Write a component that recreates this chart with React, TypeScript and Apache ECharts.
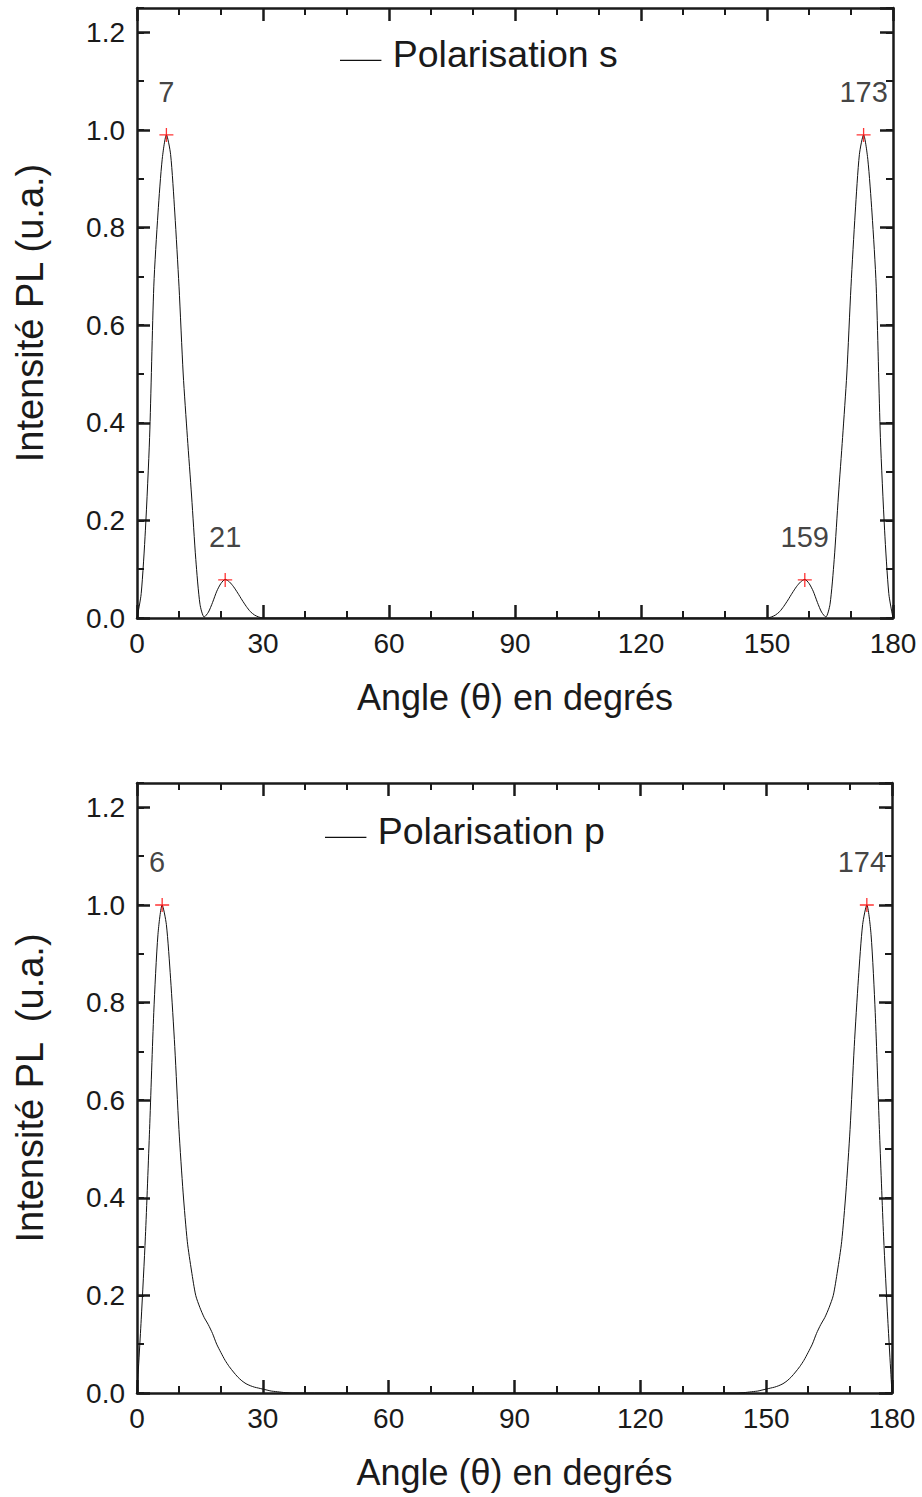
import React, { useEffect, useRef } from "react";
import * as echarts from "echarts";

// ---- Data ----
const anglesS = [
  0, 1, 2, 3, 4, 5, 6, 7, 8, 9, 10, 11, 12, 13, 14, 15, 16, 17, 18, 19, 20, 21, 22, 23, 24, 25, 26, 27, 28, 29, 30,
  150, 151, 152, 153, 154, 155, 156, 157, 158, 159, 160, 161, 162, 163, 164, 165, 166, 167, 168, 169, 170, 171, 172, 173, 174, 175, 176, 177, 178, 179, 180,
];
const valuesS = [
  0, 0.05, 0.18, 0.37, 0.68, 0.83, 0.94, 0.99, 0.95, 0.83, 0.68, 0.5, 0.37, 0.25, 0.12, 0.028, 0.002, 0.012, 0.032, 0.055, 0.071, 0.079, 0.074, 0.064, 0.051, 0.037, 0.024, 0.013, 0.006, 0.002, 0,
  0, 0.002, 0.006, 0.013, 0.024, 0.037, 0.051, 0.064, 0.074, 0.079, 0.071, 0.055, 0.032, 0.012, 0.002, 0.028, 0.12, 0.25, 0.37, 0.5, 0.68, 0.83, 0.95, 0.99, 0.94, 0.83, 0.68, 0.37, 0.18, 0.05, 0,
];

const anglesP = [
  0, 1, 2, 3, 4, 5, 6, 7, 8, 9, 10, 11, 12, 13, 14, 15, 16, 17, 18, 19, 20, 21, 22, 23, 24, 25, 26, 27, 28, 29, 30, 31, 32, 33, 34, 35, 36, 37,
  143, 144, 145, 146, 147, 148, 149, 150, 151, 152, 153, 154, 155, 156, 157, 158, 159, 160, 161, 162, 163, 164, 165, 166, 167, 168, 169, 170, 171, 172, 173, 174, 175, 176, 177, 178, 179, 180,
];
const valuesP = [
  0, 0.15, 0.32, 0.54, 0.78, 0.94, 1.0, 0.96, 0.85, 0.71, 0.54, 0.41, 0.31, 0.25, 0.2, 0.175, 0.155, 0.14, 0.122, 0.1, 0.083, 0.067, 0.054, 0.043, 0.033, 0.025, 0.019, 0.015, 0.012, 0.01, 0.008, 0.006, 0.004, 0.003, 0.002, 0.001, 0.0005, 0,
  0, 0.0005, 0.001, 0.002, 0.003, 0.004, 0.006, 0.008, 0.01, 0.012, 0.015, 0.019, 0.025, 0.033, 0.043, 0.054, 0.067, 0.083, 0.1, 0.122, 0.14, 0.155, 0.175, 0.2, 0.25, 0.31, 0.41, 0.54, 0.71, 0.85, 0.96, 1.0, 0.94, 0.78, 0.54, 0.32, 0.15, 0,
];

const peakAnglesS = [7, 173, 21, 159];
const peakValuesS = [0.99, 0.99, 0.078, 0.078];
const peakAnglesP = [6, 174];
const peakValuesP = [1.0, 1.0];

const seriesNames = ["Polarisation s", "Polarisation p"];
const xAxisTitle = "Angle (\u03b8) en degrés";
const yAxisTitles = ["Intensité PL (u.a.)", "Intensité PL  (u.a.)"];

const FONT = "'Liberation Sans', Arial, Helvetica, sans-serif";
const INK = "#1a1a1a";
const LEGEND_ICON = "path://M0,0L0.01,0L0.01,0.01Z M0,13L42,13L42,14.2L0,14.2Z";

function buildAxes(gridIndex: number, yTitle: string) {
  const line = { show: true, onZero: false, lineStyle: { color: INK, width: 2.5 } };
  const majorTick = { show: true, inside: true, length: 13, lineStyle: { color: INK, width: 2.5 } };
  const minorTickX = { show: true, splitNumber: 3, length: 7, lineStyle: { color: INK, width: 2 } };
  const xCommon = {
    type: "value",
    gridIndex,
    min: 0,
    max: 180,
    interval: 30,
    axisLine: line,
    axisTick: majorTick,
    minorTick: minorTickX,
    splitLine: { show: false },
    minorSplitLine: { show: false },
  };
  const xAxes = [
    {
      ...xCommon,
      position: "bottom",
      axisLabel: { show: true, fontSize: 28, color: INK, margin: 11, fontFamily: FONT },
      name: xAxisTitle,
      nameLocation: "middle",
      nameGap: 61,
      nameTextStyle: { fontSize: 36, color: INK, fontFamily: FONT },
    },
    { ...xCommon, position: "top", axisLabel: { show: false } },
  ];
  const yCommon = {
    type: "value",
    gridIndex,
    min: 0,
    max: 1.25,
    splitLine: { show: false },
  };
  const yAxes = [
    {
      ...yCommon,
      position: "left",
      interval: 0.2,
      axisLine: line,
      axisTick: majorTick,
      axisLabel: {
        show: true,
        fontSize: 28,
        color: INK,
        margin: 12,
        fontFamily: FONT,
        showMaxLabel: false,
        formatter: (v: number) => (v > 1.21 ? "" : v.toFixed(1)),
      },
      name: yTitle,
      nameLocation: "middle",
      nameGap: 88,
      nameTextStyle: { fontSize: 38, color: INK, fontFamily: FONT },
    },
    {
      ...yCommon,
      position: "left",
      interval: 0.1,
      axisLine: { show: false, onZero: false },
      axisTick: { show: true, inside: true, length: 7, lineStyle: { color: INK, width: 2 } },
      axisLabel: { show: false },
    },
    {
      ...yCommon,
      position: "right",
      interval: 0.2,
      axisLine: line,
      axisTick: majorTick,
      axisLabel: { show: false },
    },
    {
      ...yCommon,
      position: "right",
      interval: 0.1,
      axisLine: { show: false, onZero: false },
      axisTick: { show: true, inside: true, length: 7, lineStyle: { color: INK, width: 2 } },
      axisLabel: { show: false },
    },
  ];
  return { xAxes, yAxes };
}

function peakSeries(xAxisIndex: number, yAxisIndex: number, angles: number[], values: number[], offsetX: number) {
  return {
    type: "scatter",
    xAxisIndex,
    yAxisIndex,
    silent: true,
    data: angles.map((a, i) => [a, values[i]]),
    symbol: "path://M0,6.5L13,6.5M6.5,0L6.5,13",
    symbolSize: 14,
    itemStyle: { color: "transparent", borderColor: "#ff0000", borderWidth: 1.3 },
    label: {
      show: true,
      position: "top",
      distance: 21,
      offset: [offsetX, 0],
      fontSize: 29,
      color: "#111111",
      fontFamily: FONT,
      formatter: (p: any) => String(p.value[0]),
    },
    z: 5,
  };
}

function legendFor(name: string, left: number, top: number) {
  return {
    data: [{ name, icon: LEGEND_ICON }],
    left,
    top,
    padding: 0,
    itemWidth: 42,
    itemHeight: 14,
    itemGap: 0,
    selectedMode: false,
    textStyle: { fontSize: 37.5, color: INK, fontFamily: FONT, padding: [0, 0, 0, 6] },
  };
}

export default function App() {
  const ref = useRef<HTMLDivElement>(null);
  useEffect(() => {
    if (!ref.current) return;
    const chart = echarts.init(ref.current, undefined, { renderer: "svg" });
    const a0 = buildAxes(0, yAxisTitles[0]);
    const a1 = buildAxes(1, yAxisTitles[1]);
    const lineSeries = (name: string, xi: number, yi: number, xs: number[], ys: number[]) => ({
      type: "line",
      name,
      xAxisIndex: xi,
      yAxisIndex: yi,
      data: xs.map((a, i) => [a, ys[i]]),
      symbol: "none",
      showSymbol: false,
      smooth: 0.25,
      itemStyle: { color: "#111111" },
      lineStyle: { color: "#111111", width: 1 },
      silent: true,
    });
    const option: any = {
      animation: false,
      backgroundColor: "#ffffff",
      textStyle: { fontFamily: FONT },
      grid: [
        { left: 137, right: 29, top: 8, height: 610 },
        { left: 137, right: 30, top: 783, height: 610 },
      ],
      xAxis: [...a0.xAxes, ...a1.xAxes],
      yAxis: [...a0.yAxes, ...a1.yAxes],
      legend: [legendFor(seriesNames[0], 340, 35), legendFor(seriesNames[1], 325, 812)],
      series: [
        lineSeries(seriesNames[0], 0, 0, anglesS, valuesS),
        lineSeries(seriesNames[1], 2, 4, anglesP, valuesP),
        peakSeries(0, 0, peakAnglesS, peakValuesS, 0),
        peakSeries(2, 4, peakAnglesP, peakValuesP, -5),
      ],
    };
    chart.setOption(option);
    return () => chart.dispose();
  }, []);
  return (
    <div
      ref={ref}
      style={{ position: "absolute", left: 0, top: 0, width: 922, height: 1497, background: "#fff" }}
    />
  );
}
